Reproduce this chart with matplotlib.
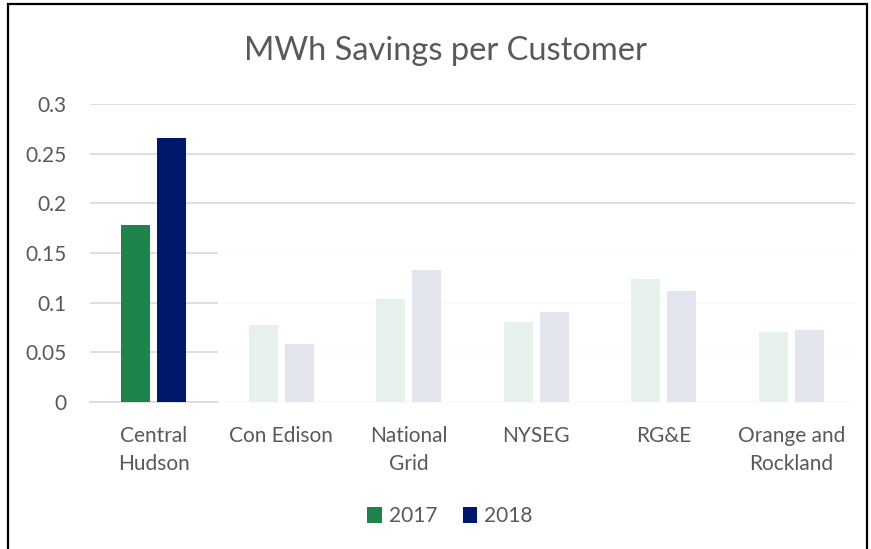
import matplotlib.pyplot as plt
import numpy as np
from matplotlib.patches import Rectangle

utilities = ["Central\nHudson", "Con Edison", "National\nGrid", "NYSEG", "RG&E", "Orange and\nRockland"]
savings_2017 = [0.178, 0.0775, 0.1034, 0.0805, 0.1235, 0.0705]
savings_2018 = [0.266, 0.058, 0.1325, 0.0906, 0.1117, 0.0728]
years = ["2017", "2018"]
yticks = [0, 0.05, 0.1, 0.15, 0.2, 0.25, 0.3]
ytick_labels = ["0", "0.05", "0.1", "0.15", "0.2", "0.25", "0.3"]

GREEN = "#1F844C"
NAVY = "#00186A"
TEXT = "#595959"

plt.rcParams["font.family"] = ["Lato", "DejaVu Sans"]

fig = plt.figure(figsize=(8.71, 5.49), dpi=100)
ax = fig.add_axes([90 / 871, 147 / 549, 765 / 871, 298 / 549])

x = np.arange(len(utilities))
width = 0.227
ax.bar(x - 0.142, savings_2017, width, color=GREEN, label=years[0], zorder=2)
ax.bar(x + 0.142, savings_2018, width, color=NAVY, label=years[1], zorder=2)

# faded overlay over the non-highlighted utilities
ax.add_patch(Rectangle((0.5, -0.003), 5.2, 0.155, facecolor="white", alpha=0.89,
                       edgecolor="none", zorder=3, clip_on=False))

ax.set_xlim(-0.5, len(utilities) - 0.5)
ax.set_ylim(0, 0.3)
ax.set_yticks(yticks)
ax.set_yticklabels(ytick_labels)
ax.set_xticks(x)
ax.set_xticklabels(utilities, linespacing=1.5)
ax.grid(axis="y", color="#D9D9D9", linewidth=1.2, zorder=0)
ax.set_axisbelow(True)
for side in ["top", "right", "left"]:
    ax.spines[side].set_visible(False)
ax.spines["bottom"].set_color("#D9D9D9")
ax.spines["bottom"].set_linewidth(1.2)
ax.spines["bottom"].set_zorder(0)
ax.tick_params(axis="both", length=0, labelsize=15, colors=TEXT)
ax.tick_params(axis="y", pad=17)
ax.tick_params(axis="x", pad=17)

fig.text(445 / 871, 1 - 51 / 549, "MWh Savings per Customer", ha="center", va="center",
         fontsize=23.5, color=TEXT)

leg = fig.legend(loc="center", bbox_to_anchor=(450 / 871, 1 - 516 / 549), ncol=2, frameon=False,
                 fontsize=15, handlelength=0.7, handleheight=0.8, handletextpad=0.35,
                 columnspacing=1.2)
for t in leg.get_texts():
    t.set_color(TEXT)

# chart border
fig.patches.append(Rectangle((8 / 871, -0.05), 859 / 871, 1.05 - 4 / 549, transform=fig.transFigure,
                             fill=False, edgecolor="black", linewidth=1.6))

fig.savefig("out.png", dpi=100)
